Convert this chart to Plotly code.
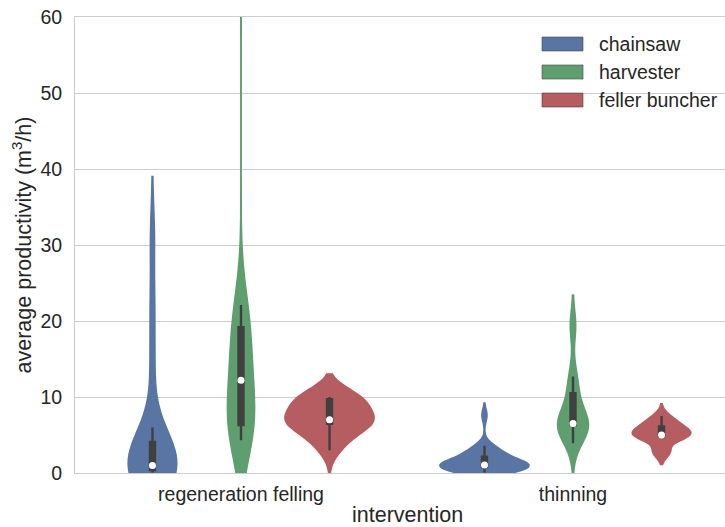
import numpy as np
import plotly.graph_objects as go

# ---- data -------------------------------------------------------------
interventions = ["regeneration felling", "thinning"]
machines = ["chainsaw", "harvester", "feller buncher"]
colors = ["#5975A4", "#5F9E6E", "#B55D60"]

# average productivity samples (m3/h) per machine and intervention
chainsaw_regeneration = [0.05, 0.15, 0.25, 0.3, 0.4, 0.5, 0.65, 0.8, 0.95, 1.05,
                         1.5, 2.3, 3.2, 4.1, 6.0, 14.5, 22.0, 31.0]
harvester_regeneration = [4.3, 5.3, 6.3, 8.5, 10.8, 13.6, 16.5, 19.2, 22.1, 72.0]
feller_buncher_regeneration = [3.0, 3.4, 3.9, 4.3, 4.8, 5.3, 5.9, 6.4, 6.5,
                               6.55, 6.6, 6.65, 6.7, 6.8, 6.85, 6.9, 7.0,
                               7.1, 7.3, 7.6, 8.0, 8.4, 8.8, 9.2, 9.65,
                               9.85, 9.9, 9.9, 9.95, 10.0, 10.0, 10.0, 10.0]
chainsaw_thinning = [0.05, 0.15, 0.25, 0.35, 0.45, 0.55, 0.7, 0.8, 0.85, 0.9,
                     0.95, 0.98, 1.0, 1.02, 1.05, 1.1, 1.2, 1.35, 1.5, 1.7,
                     1.9, 2.1, 2.3, 2.6, 2.8, 3.0, 3.3, 3.6, 7.6]
harvester_thinning = [3.9, 5.4, 6.3, 6.4, 6.45, 6.55, 8.4, 10.5, 12.7, 19.4]
feller_buncher_thinning = [2.75, 2.8, 2.85, 4.6, 4.8, 4.9, 4.95, 4.97, 5.0, 5.0,
                           5.2, 5.5, 5.8, 6.0, 6.15, 6.4, 6.8, 7.1, 7.5]

samples = {
    ("regeneration felling", "chainsaw"): chainsaw_regeneration,
    ("regeneration felling", "harvester"): harvester_regeneration,
    ("regeneration felling", "feller buncher"): feller_buncher_regeneration,
    ("thinning", "chainsaw"): chainsaw_thinning,
    ("thinning", "harvester"): harvester_thinning,
    ("thinning", "feller buncher"): feller_buncher_thinning,
}

# kernel bandwidths used for the density estimates
kde_bandwidth = {
    ("regeneration felling", "chainsaw"): 4.0,
    ("regeneration felling", "harvester"): 4.6,
    ("regeneration felling", "feller buncher"): 1.5,
    ("thinning", "chainsaw"): 0.8,
    ("thinning", "harvester"): 2.0,
    ("thinning", "feller buncher"): 0.8,
}

y_ticks = [0, 10, 20, 30, 40, 50, 60]

# ---- geometry ---------------------------------------------------------
W, H = 725, 527
ML, MR, MT, MB = 75, 0, 17, 54
plot_w = W - ML - MR
plot_h = H - MT - MB
px_per_cat = 332.0
x_range = [-0.5, -0.5 + plot_w / px_per_cat]
slot = 0.8 / len(machines)          # dodge width of one violin
box_px = 5.0                        # inner box width in pixels

FONT = "Liberation Sans, Arial, sans-serif"
TXT = "#262626"
BOX = "#404040"

fig = go.Figure()

med_x, med_y = [], []
for ci, cat in enumerate(interventions):
    counts = [len(samples[(cat, m)]) for m in machines]
    for mi, m in enumerate(machines):
        vals = samples[(cat, m)]
        pos = ci + (mi - (len(machines) - 1) / 2) * slot
        # violin width scaled by the number of observations within a category
        w = slot * len(vals) / max(counts)
        fig.add_trace(go.Violin(
            x0=pos, y=vals, name=m, width=w,
            bandwidth=kde_bandwidth[(cat, m)], spanmode="soft",
            fillcolor=colors[mi], line=dict(color=colors[mi], width=1.9),
            opacity=1, points=False, showlegend=False, hoverinfo="skip",
            box=dict(visible=True, width=box_px / (w * px_per_cat),
                     fillcolor=BOX, line=dict(color=BOX, width=2.4)),
            meanline=dict(visible=False),
        ))
        med_x.append(pos)
        med_y.append(float(np.median(vals)))

fig.add_trace(go.Scatter(
    x=med_x, y=med_y, mode="markers", showlegend=False, hoverinfo="skip",
    marker=dict(color="white", size=7, line=dict(width=0)),
))

# legend: colour patches with labels in the upper right corner
def px_to_paper_x(px):
    return (px - ML) / plot_w

def px_to_paper_y(py):
    return (H - MB - py) / plot_h

shapes, annotations = [], []
row0, row_step = 44, 28
for i, m in enumerate(machines):
    cy = row0 + i * row_step
    shapes.append(dict(
        type="rect", xref="paper", yref="paper",
        x0=px_to_paper_x(542), x1=px_to_paper_x(583),
        y0=px_to_paper_y(cy + 7), y1=px_to_paper_y(cy - 7),
        fillcolor=colors[i], line=dict(color="rgba(60,60,60,0.55)", width=1),
    ))
    annotations.append(dict(
        xref="paper", yref="paper", x=px_to_paper_x(597), y=px_to_paper_y(cy),
        xanchor="left", yanchor="middle", showarrow=False, text=m,
        font=dict(family=FONT, size=19.5, color=TXT),
    ))

# x axis title centred on the full category span
annotations.append(dict(
    xref="x", yref="paper", x=(len(interventions) - 1) / 2,
    y=px_to_paper_y(515), xanchor="center", yanchor="middle",
    showarrow=False, text="intervention",
    font=dict(family=FONT, size=21.5, color=TXT),
))

fig.update_layout(
    width=W, height=H,
    margin=dict(l=ML, r=MR, t=MT, b=MB, pad=0),
    paper_bgcolor="white", plot_bgcolor="white",
    violinmode="overlay", violingap=0, violingroupgap=0,
    font=dict(family=FONT, color=TXT),
    shapes=shapes, annotations=annotations,
    showlegend=False,
)
fig.update_xaxes(
    range=x_range, tickvals=list(range(len(interventions))),
    ticktext=interventions, showgrid=False, zeroline=False,
    showline=True, linecolor="#cccccc", linewidth=1, mirror=True,
    ticks="outside", ticklen=4, tickcolor="rgba(0,0,0,0)",
    tickfont=dict(family=FONT, size=19.5, color=TXT),
)
fig.update_yaxes(
    range=[0, 60], tickvals=y_ticks, showgrid=True, gridcolor="#cccccc",
    gridwidth=1, zeroline=False, showline=True, linecolor="#cccccc",
    linewidth=1, mirror=True, ticks="outside", ticklen=8,
    tickcolor="rgba(0,0,0,0)",
    tickfont=dict(family=FONT, size=19.5, color=TXT),
    title=dict(text="average productivity (m<sup>3</sup>/h)", standoff=2,
               font=dict(family=FONT, size=21.5, color=TXT)),
)

fig.write_html("out.html")
